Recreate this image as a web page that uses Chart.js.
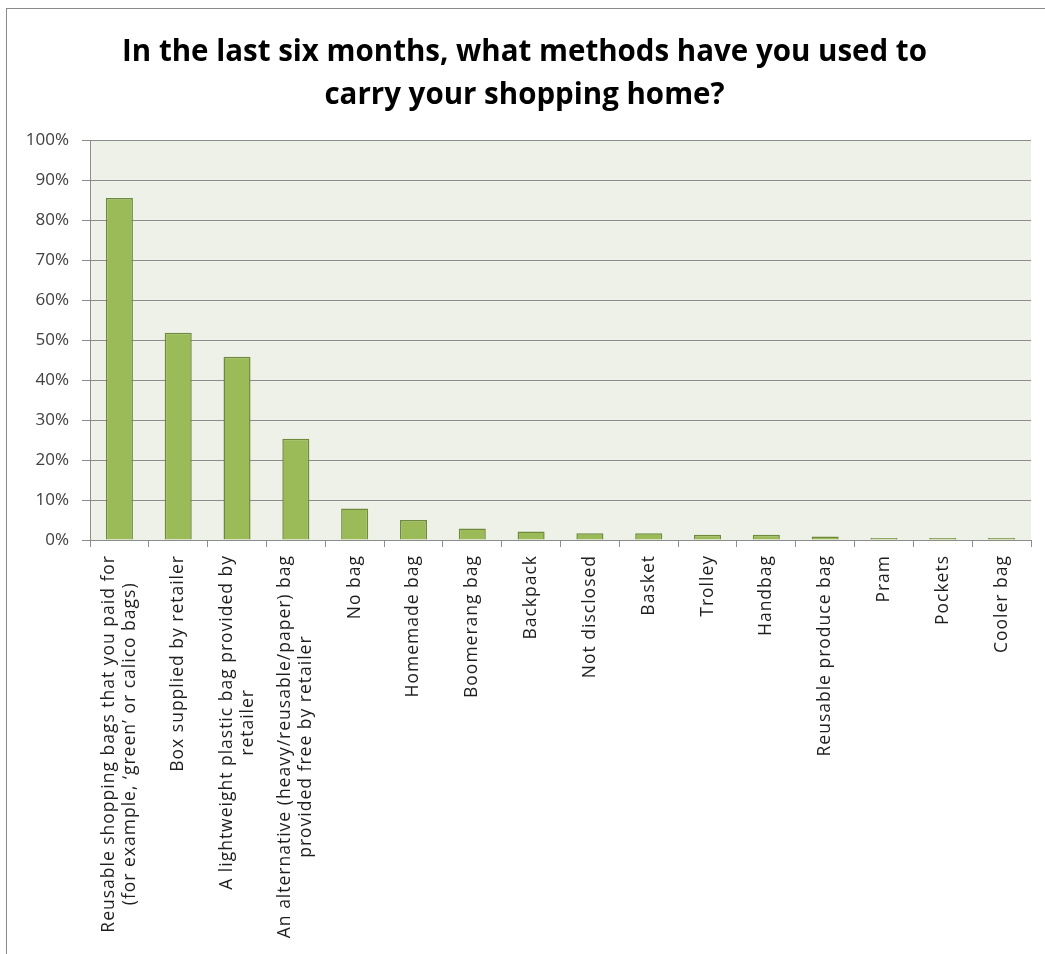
<!DOCTYPE html>
<html>
<head>
<meta charset="utf-8">
<script src="https://cdn.jsdelivr.net/npm/chart.js@4"></script>
<style>
  html, body { margin: 0; padding: 0; background: #fff; }
  #wrap { position: relative; width: 1045px; height: 954px; }
  #frame { position: absolute; left: 6px; top: 8px; right: 0; bottom: 0;
           border-left: 1px solid #8a8a8a; border-top: 1px solid #8a8a8a; pointer-events: none; }
</style>
</head>
<body>
<div id="wrap">
  <canvas id="chartCanvas"></canvas>
  <div id="frame"></div>
</div>
<script>
  // === Data ===
  const titleLines = ['In the last six months, what methods have you used to', 'carry your shopping home?'];
  const categories = [
    ['Reusable shopping bags that you paid for', '(for example, ‘green’ or calico bags)'],
    'Box supplied by retailer',
    ['A lightweight plastic bag provided by', 'retailer'],
    ['An alternative (heavy/reusable/paper) bag', 'provided free by retailer'],
    'No bag',
    'Homemade bag',
    'Boomerang bag',
    'Backpack',
    'Not disclosed',
    'Basket',
    'Trolley',
    'Handbag',
    'Reusable produce bag',
    'Pram',
    'Pockets',
    'Cooler bag'
  ];
  const percentages = [85.5, 51.8, 45.8, 25.3, 7.9, 5.0, 2.9, 2.1, 1.7, 1.7, 1.3, 1.3, 0.9, 0.5, 0.5, 0.5];
  const yTicks = [0, 10, 20, 30, 40, 50, 60, 70, 80, 90, 100];

  const GRID = '#8c8c8c';
  const FONT = '"Open Sans", Lato, sans-serif';

  // plot area background
  const plotBg = {
    id: 'plotBg',
    beforeDraw(chart) {
      const { ctx, chartArea: a } = chart;
      ctx.save();
      ctx.fillStyle = '#eef1e8';
      ctx.fillRect(a.left, a.top, a.right - a.left, a.bottom - a.top);
      ctx.restore();
    }
  };

  // rotated category labels, lines centred on each other, block ending at the axis
  const xLabels = {
    id: 'xLabels',
    afterDraw(chart) {
      const { ctx } = chart;
      const x = chart.scales.x;
      const lineH = 21;
      ctx.save();
      ctx.font = '17.5px ' + FONT;
      ctx.letterSpacing = '1px';
      ctx.fillStyle = '#1e1e1e';
      ctx.textAlign = 'center';
      ctx.textBaseline = 'middle';
      categories.forEach((lab, i) => {
        const lines = Array.isArray(lab) ? lab : [lab];
        const cx = x.getPixelForTick(i);
        const maxW = Math.max(...lines.map(l => ctx.measureText(l).width));
        lines.forEach((line, j) => {
          ctx.save();
          ctx.translate(cx + (j - (lines.length - 1) / 2) * lineH, x.top + 15);
          ctx.rotate(-Math.PI / 2);
          ctx.fillText(line, -maxW / 2, 0);
          ctx.restore();
        });
      });
      ctx.restore();
    }
  };

  const ctx = document.getElementById('chartCanvas').getContext('2d');
  new Chart(ctx, {
    type: 'bar',
    data: {
      labels: categories,
      datasets: [{
        data: percentages,
        backgroundColor: '#9bbb59',
        borderColor: '#6f8a3c',
        borderWidth: 1.5,
        categoryPercentage: 1,
        barPercentage: 0.46
      }]
    },
    options: {
      responsive: true,
      maintainAspectRatio: false,
      animation: false,
      layout: { padding: { left: 18, right: 14, top: 0, bottom: 0 } },
      plugins: {
        legend: { display: false },
        tooltip: { enabled: false },
        title: {
          display: true,
          text: titleLines,
          color: '#000',
          font: { family: FONT, size: 29.5, weight: 'bold', lineHeight: 1.46 },
          padding: { top: 31, bottom: 23 }
        }
      },
      scales: {
        x: {
          grid: { display: true, drawOnChartArea: false, drawTicks: true, tickLength: 7, color: GRID, offset: true },
          border: { color: GRID },
          ticks: { display: false },
          afterFit(scale) { scale.height = 414; }
        },
        y: {
          min: 0, max: 100,
          afterBuildTicks(scale) { scale.ticks = yTicks.map(v => ({ value: v })); },
          grid: { color: GRID, tickLength: 8 },
          border: { color: GRID },
          ticks: { color: '#404040', padding: 13, font: { family: FONT, size: 17 }, callback: v => v + '%' },
          afterFit(scale) { scale.width = 72; }
        }
      }
    },
    plugins: [plotBg, xLabels]
  });
</script>
</body>
</html>
